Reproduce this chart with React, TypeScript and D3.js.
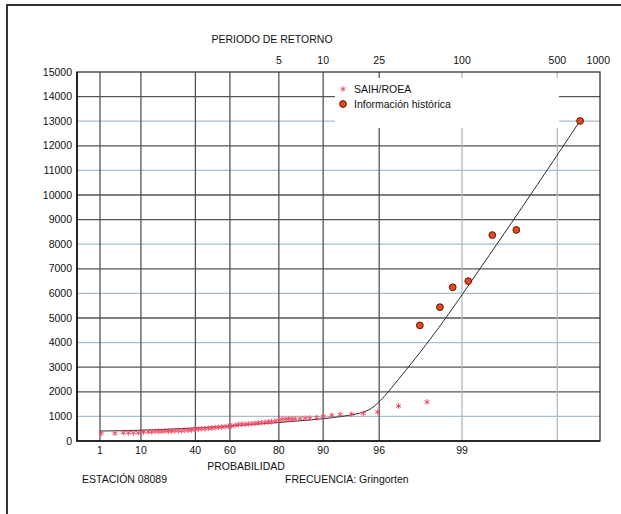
import * as d3 from "d3";
import { useEffect, useRef } from "react";

const W = 621;
const H = 514;
const frame = { left: 77, right: 600, top: 72, bottom: 441 };

// axis ticks
const probTicks = [1, 10, 40, 60, 80, 90, 96, 99];
const periodTicks = [5, 10, 25, 100, 500, 1000];
const flowTicks = [0, 1000, 2000, 3000, 4000, 5000, 6000, 7000, 8000, 9000, 10000, 11000, 12000, 13000, 14000, 15000];
const lightFlowLines = [1000, 4000, 6000, 8000, 11000, 13000];
const lightProbLines = [99, 99.8];

// SAIH/ROEA annual maxima (probability %, m3/s)
const saihProb = [1.1, 2.8, 4.5, 5.8, 7.3, 9.0, 11.0, 13.1, 14.7, 16.3, 18.0, 19.8, 21.6, 23.5, 25.5, 27.4, 29.4, 31.5, 33.5, 35.6, 37.7, 39.8, 41.8, 43.9, 45.9, 47.9, 49.9, 51.8, 53.7, 55.6, 57.4, 59.2, 60.9, 62.6, 64.2, 65.8, 67.3, 68.8, 70.3, 71.6, 72.9, 74.2, 75.4, 76.6, 77.7, 78.8, 79.9, 80.9, 81.8, 82.7, 83.6, 84.4, 85.6, 86.7, 87.6, 88.9, 90.0, 91.3, 92.4, 93.7, 94.8, 95.9, 97.1, 98.2];
const saihFlow = [313, 313, 337, 337, 337, 337, 366, 378, 378, 394, 394, 394, 407, 407, 407, 419, 419, 419, 435, 435, 447, 476, 488, 500, 500, 516, 528, 541, 557, 569, 581, 598, 610, 638, 663, 679, 679, 691, 703, 720, 732, 744, 760, 772, 785, 801, 841, 882, 882, 894, 894, 894, 907, 923, 923, 947, 1004, 1045, 1077, 1089, 1126, 1179, 1423, 1585];

// historical floods
const histProb = [97.97, 98.55, 98.83, 99.1, 99.4, 99.6, 99.864];
const histFlow = [4700, 5440, 6250, 6500, 8370, 8580, 13010];

// fitted distribution
const fitProb = [1, 10, 40, 60, 80, 90, 93.8, 95.08, 95.83, 96.66, 98.335, 99.02, 99.68, 99.864];
const fitFlow = [406, 427, 528, 610, 752, 894, 1057, 1191, 1463, 2073, 4175, 6004, 9931, 13020];

const gumbel = (p: number) => -Math.log(-Math.log(p / 100));

const FONT = "'Liberation Sans', Arial, sans-serif";

const App = () => {
  const svgRef = useRef<SVGSVGElement>(null);

  useEffect(() => {
    const svg = d3.select(svgRef.current);
    svg.selectAll("*").remove();

    const x = d3.scaleLinear().domain([gumbel(1), gumbel(99)]).range([100, 462]);
    const y = d3.scaleLinear().domain([0, 15000]).range([frame.bottom, frame.top]);
    const px = (p: number) => x(gumbel(p));

    svg.append("rect").attr("width", W).attr("height", H).attr("fill", "#fff");

    // outer border (runs off the right and bottom of the page)
    svg
      .append("rect")
      .attr("x", 7)
      .attr("y", 5)
      .attr("width", 640)
      .attr("height", 540)
      .attr("fill", "none")
      .attr("stroke", "#333")
      .attr("stroke-width", 2);

    const grid = svg.append("g");
    grid
      .selectAll(".hline")
      .data(flowTicks.filter((d) => d > 0 && d < 15000))
      .join("line")
      .attr("x1", frame.left)
      .attr("x2", frame.right)
      .attr("y1", (d) => y(d))
      .attr("y2", (d) => y(d))
      .attr("stroke", (d) => (lightFlowLines.includes(d) ? "#a9bdcc" : "#555"))
      .attr("stroke-width", 1.3);

    grid
      .selectAll(".vline")
      .data([...probTicks, 99.8])
      .join("line")
      .attr("x1", (d) => px(d))
      .attr("x2", (d) => px(d))
      .attr("y1", frame.top)
      .attr("y2", frame.bottom)
      .attr("stroke", (d) => (lightProbLines.includes(d) ? "#a9bdcc" : "#555"))
      .attr("stroke-width", 1.3);

    // legend box hides the grid
    svg
      .append("rect")
      .attr("x", 335)
      .attr("y", 78)
      .attr("width", 224)
      .attr("height", 50)
      .attr("fill", "#fff");

    // frame
    svg
      .append("rect")
      .attr("x", frame.left)
      .attr("y", frame.top)
      .attr("width", frame.right - frame.left)
      .attr("height", frame.bottom - frame.top)
      .attr("fill", "none")
      .attr("stroke", "#333")
      .attr("stroke-width", 1.3);
    svg
      .append("path")
      .attr("d", `M${frame.left},${frame.top}V${frame.bottom}H${frame.right}`)
      .attr("fill", "none")
      .attr("stroke", "#111")
      .attr("stroke-width", 1.6);

    // fitted curve
    const line = d3
      .line<number>()
      .x((d, i) => px(fitProb[i]))
      .y((d) => y(d))
      .curve(d3.curveBasis);
    svg
      .append("path")
      .attr("d", line(fitFlow))
      .attr("fill", "none")
      .attr("stroke", "#2a2a2a")
      .attr("stroke-width", 1);

    // SAIH points
    const star = d3.symbol(d3.symbolAsterisk, 22)();
    svg
      .append("g")
      .selectAll("path")
      .data(saihFlow)
      .join("path")
      .attr("d", star)
      .attr("transform", (d, i) => `translate(${px(saihProb[i])},${y(d)})`)
      .attr("fill", "none")
      .attr("stroke", "#f24a64")
      .attr("stroke-width", 1);

    // historical points
    svg
      .append("g")
      .selectAll("circle")
      .data(histFlow)
      .join("circle")
      .attr("cx", (d, i) => px(histProb[i]))
      .attr("cy", (d) => y(d))
      .attr("r", 3.4)
      .attr("fill", "#e8461c")
      .attr("stroke", "#5c1e0c")
      .attr("stroke-width", 1);

    const text = svg.append("g").attr("font-family", FONT).attr("font-size", 10.5).attr("fill", "#111");

    text
      .selectAll(".ylab")
      .data(flowTicks)
      .join("text")
      .attr("x", 72)
      .attr("y", (d) => y(d))
      .attr("dy", "0.35em")
      .attr("text-anchor", "end")
      .text((d) => d);

    text
      .selectAll(".xlab")
      .data(probTicks)
      .join("text")
      .attr("x", (d) => px(d))
      .attr("y", 454)
      .attr("text-anchor", "middle")
      .text((d) => d);

    text
      .selectAll(".tlab")
      .data(periodTicks)
      .join("text")
      .attr("x", (d) => px(100 * (1 - 1 / d)))
      .attr("y", 64)
      .attr("text-anchor", "middle")
      .text((d) => d);

    text.append("text").attr("x", 272).attr("y", 43).attr("text-anchor", "middle").text("PERIODO DE RETORNO");
    text.append("text").attr("x", 246).attr("y", 469.5).attr("text-anchor", "middle").text("PROBABILIDAD");
    text.append("text").attr("x", 82).attr("y", 483).text("ESTACIÓN 08089");
    text.append("text").attr("x", 285).attr("y", 483).text("FRECUENCIA: Gringorten");

    // legend
    svg
      .append("path")
      .attr("d", star)
      .attr("transform", "translate(343,89)")
      .attr("fill", "none")
      .attr("stroke", "#f24a64")
      .attr("stroke-width", 1);
    svg
      .append("circle")
      .attr("cx", 343)
      .attr("cy", 104)
      .attr("r", 3.4)
      .attr("fill", "#e8461c")
      .attr("stroke", "#5c1e0c");
    text.append("text").attr("x", 354).attr("y", 93).text("SAIH/ROEA");
    text.append("text").attr("x", 354).attr("y", 108).text("Información histórica");
  }, []);

  return <svg ref={svgRef} width={W} height={H} style={{ position: "absolute", left: 0, top: 0 }} />;
};

export default App;
